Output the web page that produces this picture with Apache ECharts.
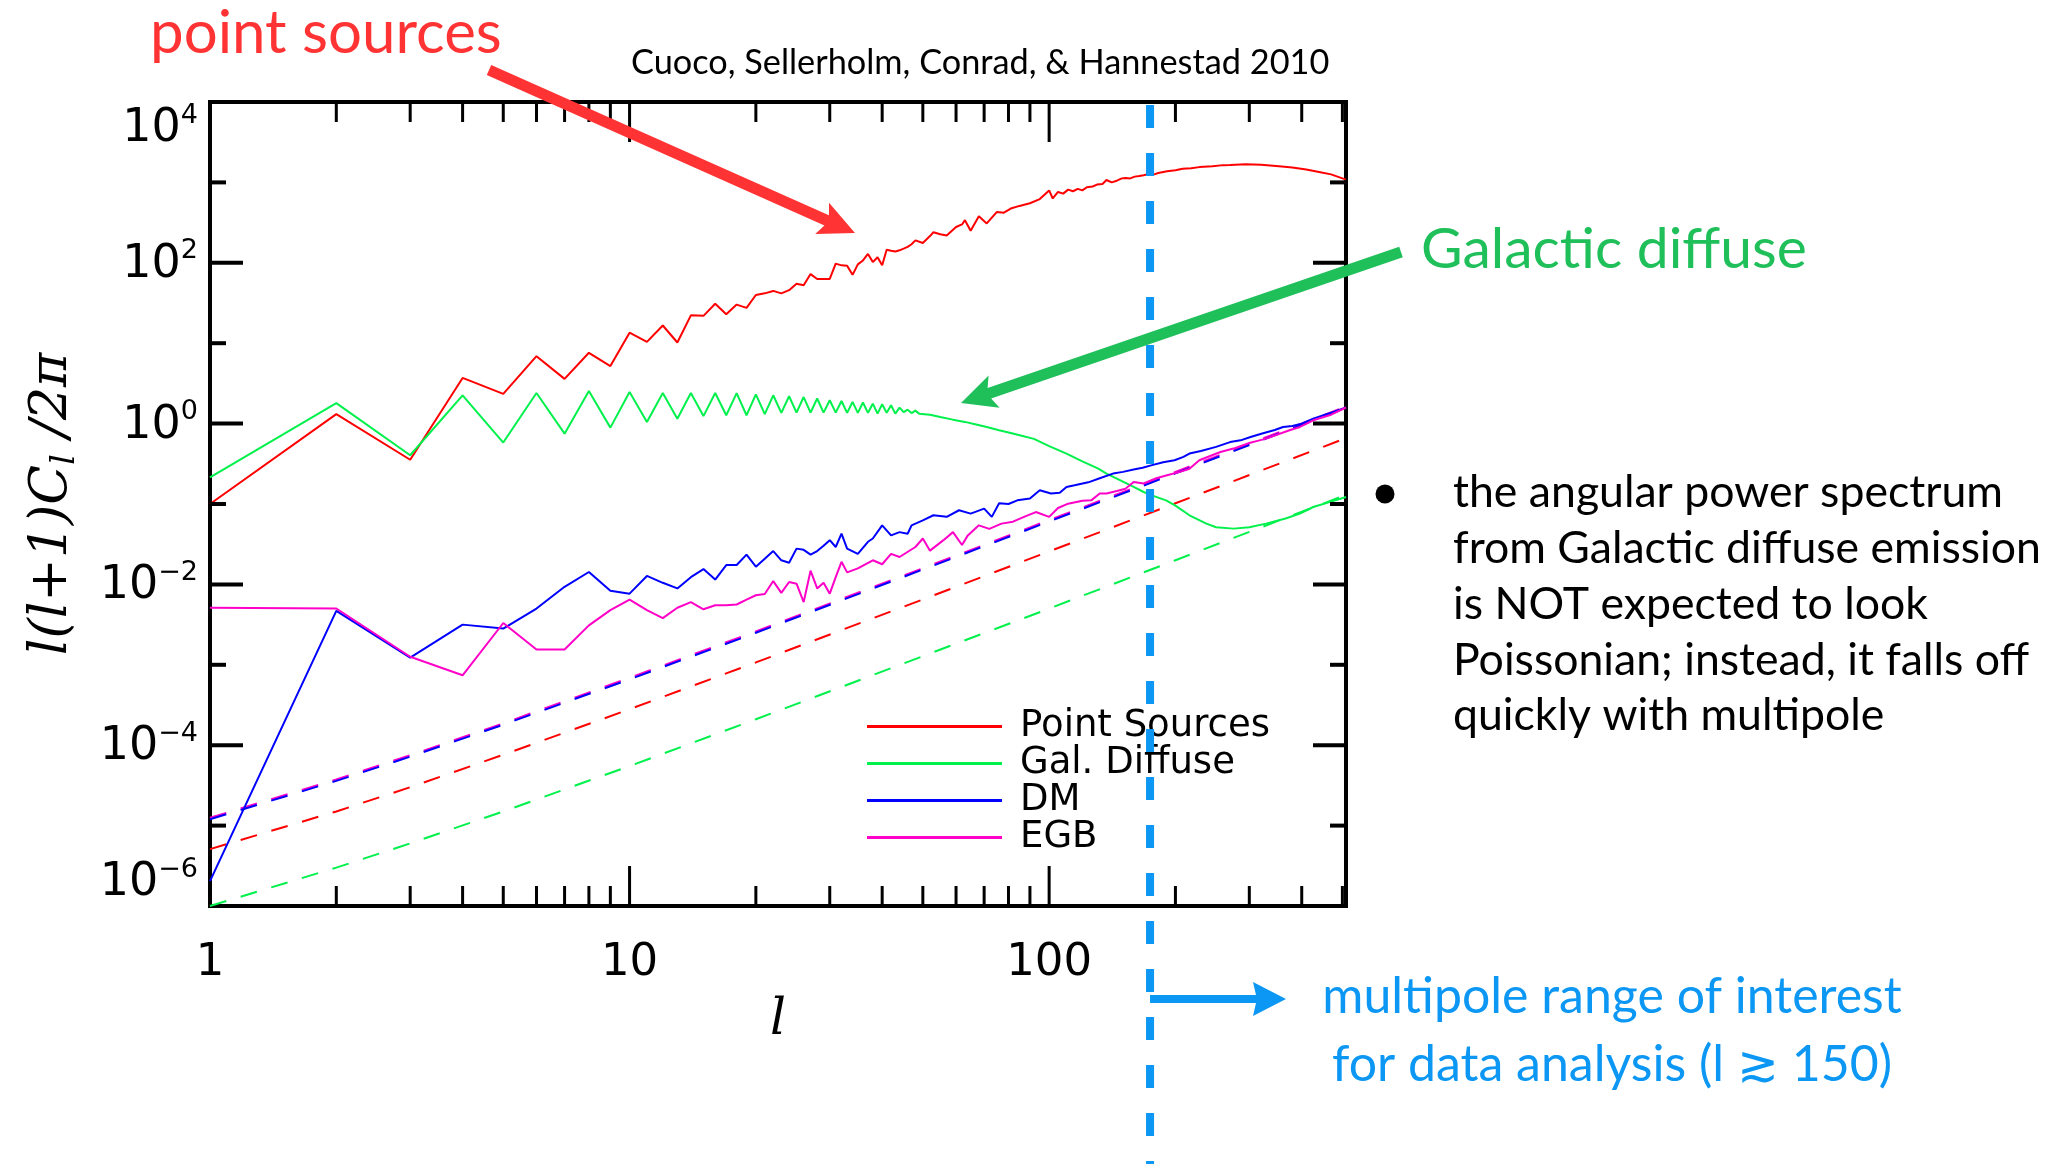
<!DOCTYPE html>
<html><head><meta charset="utf-8">
<script src="https://cdn.jsdelivr.net/npm/echarts@6/dist/echarts.min.js"></script>
<style>html,body{margin:0;padding:0;background:#fff;}#c{width:2049px;height:1164px;}</style>
</head><body><div id="c"></div>
<script>
// ---------------- DATA ----------------
const seriesNames = ['Point Sources', 'Gal. Diffuse', 'DM', 'EGB'];

const psData = [[1,0.1],[2,1.31],[3,0.355],[4,3.7],[5,2.34],[6,6.9],[7,3.6],[8,7.6],[9,5.2],[10,13.5],[11,10.4],[12,16.6],[13,10.2],[14,22.2],[15,21.9],[16,30.9],[17,22.9],[18,30.2],[19,27.5],[20,39.8],[21,41.7],[22,44.7],[23,41.7],[24,45.7],[25,55],[26,52.5],[27,72.4],[28,63],[29,63],[30,63],[31,97.7],[32,93],[33,92],[34,70.8],[35,95.5],[36,107],[37,129],[38,102],[39,117],[40,93],[41,145],[42,141],[43,138],[44,143],[45,150],[46,158],[47,170],[48,190],[50,176],[52,215],[53,240],[55,226],[57,219],[60,279],[62,300],[63,339],[65,251],[68,380],[71,309],[75,427],[78,420],[81,473],[85,510],[90,550],[95,620],[100,794],[102,631],[105,760],[108,725],[111,813],[114,776],[117,830],[120,795],[123,871],[127,890],[130,940],[134,955],[137,1072],[141,1000],[145,1050],[149,1122],[152,1135],[156,1122],[160,1180],[164,1202],[168,1230],[174,1288],[178,1259],[182,1310],[191,1380],[200,1420],[208,1479],[218,1500],[228,1549],[245,1585],[260,1640],[270,1641],[294,1679],[320,1660],[353,1585],[380,1531],[410,1445],[440,1349],[470,1259],[510,1084]];

const gdData = [[1,0.214],[2,1.80],[3,0.404],[4,2.25],[5,0.581],[6,2.40],[7,0.75],[8,2.54],[9,0.891],[10,2.47],[11,1.05],[12,2.40],[13,1.15],[14,2.40],[15,1.24],[16,2.40],[17,1.27],[18,2.39],[19,1.27],[20,2.31],[21,1.31],[22,2.25],[23,1.36],[24,2.19],[25,1.37],[26,2.14],[27,1.37],[28,2.05],[29,1.37],[30,1.95],[31,1.37],[32,1.91],[33,1.36],[34,1.86],[35,1.36],[36,1.83],[37,1.36],[38,1.77],[39,1.33],[40,1.74],[41,1.36],[42,1.69],[43,1.33],[44,1.58],[45,1.39],[46,1.49],[47,1.35],[48,1.45],[49,1.33],[52,1.29],[55,1.21],[59,1.12],[63,1.05],[67,0.977],[71,0.908],[76,0.826],[81,0.764],[86,0.708],[92,0.646],[100,0.525],[110,0.424],[120,0.339],[131,0.275],[137,0.239],[145,0.207],[159,0.163],[168,0.141],[175,0.129],[190,0.111],[200,0.0955],[216,0.0724],[237,0.057],[250,0.0513],[275,0.0494],[300,0.0513],[329,0.057],[366,0.0661],[396,0.0759],[426,0.0918],[470,0.107],[510,0.122]];

const dmData = [[1,2.04e-6],[2,0.00468],[3,0.00123],[4,0.00316],[5,0.00282],[6,0.00501],[7,0.00933],[8,0.01426],[9,0.00832],[10,0.00767],[11,0.01274],[12,0.01047],[13,0.00891],[14,0.0123],[15,0.0155],[16,0.01148],[17,0.0174],[18,0.0174],[19,0.02344],[20,0.0166],[21,0.0209],[22,0.026],[23,0.01995],[24,0.01862],[25,0.02786],[26,0.0269],[27,0.02344],[28,0.026],[29,0.0302],[30,0.0355],[31,0.0292],[32,0.0427],[33,0.0279],[35,0.024],[37,0.0339],[38,0.0372],[40,0.0543],[42,0.0407],[44,0.0447],[46,0.0427],[47,0.0543],[50,0.0627],[53,0.0724],[57,0.0692],[61,0.0836],[65,0.0759],[70,0.0877],[73,0.0692],[76,0.102],[80,0.1],[84,0.111],[90,0.117],[95,0.148],[101,0.135],[106,0.138],[110,0.163],[115,0.171],[124,0.186],[132,0.209],[142,0.239],[150,0.251],[159,0.269],[167,0.282],[175,0.302],[187,0.331],[199,0.35],[209,0.385],[216,0.424],[230,0.457],[250,0.513],[270,0.589],[286,0.619],[302,0.681],[322,0.752],[345,0.832],[361,0.908],[380,0.933],[400,1.0],[426,1.153],[460,1.318],[480,1.413],[510,1.585]];

const egbData = [[1,0.00513],[2,0.00501],[3,0.00126],[4,0.000741],[5,0.00331],[6,0.00155],[7,0.00155],[8,0.00309],[9,0.00479],[10,0.00646],[11,0.00479],[12,0.0038],[13,0.00513],[14,0.00603],[15,0.0049],[16,0.0055],[17,0.0055],[18,0.00562],[19,0.00646],[20,0.00733],[21,0.00759],[22,0.011],[23,0.00785],[24,0.0107],[25,0.0102],[26,0.00603],[27,0.0148],[28,0.00891],[29,0.0105],[30,0.00767],[31,0.0123],[32,0.0191],[33,0.0141],[35,0.0158],[38,0.01995],[40,0.0178],[42,0.024],[44,0.0219],[48,0.0292],[50,0.0372],[52,0.0263],[56,0.0355],[59,0.0447],[62,0.0309],[64,0.0407],[68,0.0543],[72,0.049],[77,0.057],[82,0.0603],[88,0.0708],[93,0.0794],[100,0.0692],[105,0.0891],[111,0.101],[120,0.11],[126,0.111],[132,0.135],[137,0.135],[145,0.145],[152,0.155],[159,0.188],[168,0.18],[180,0.209],[191,0.228],[205,0.251],[216,0.275],[228,0.35],[256,0.444],[275,0.489],[300,0.575],[317,0.619],[329,0.65],[374,0.826],[396,0.908],[426,1.1],[470,1.29],[510,1.585]];

// dashed (Poisson-like) reference curves
const psPoisson  = [[1,5.1e-6],[2,1.5e-5],[3,3.0e-5],[5,7.6e-5],[10,2.8e-4],[20,1.07e-3],[50,6.5e-3],[100,0.0257],[200,0.102],[510,0.66]];
const gdPoisson  = [[1,1.0e-6],[2,3.0e-6],[3,6.0e-6],[5,1.5e-5],[10,5.5e-5],[20,2.1e-4],[50,1.28e-3],[100,5.0e-3],[200,0.02],[510,0.13]];
const dmPoisson  = [[1,1.2e-5],[2,3.6e-5],[3,7.2e-5],[5,1.8e-4],[10,6.6e-4],[20,2.5e-3],[50,0.0153],[100,0.0606],[200,0.24],[510,1.57]];
const egbPoisson = [[1,1.25e-5],[2,3.75e-5],[3,7.5e-5],[5,1.87e-4],[10,6.9e-4],[20,2.6e-3],[50,0.0159],[100,0.063],[200,0.25],[510,1.63]];

// axes / ticks
const xRange = [1, 510];
const yRange = [1e-6, 1e4];
const xTickValues = [2,3,4,5,6,7,8,9,10,20,30,40,50,60,70,80,90,100,200,300,400,500];
const xMajorTicks = [10, 100];
const yTickValues = [1e-5,1e-4,1e-3,1e-2,1e-1,1,10,100,1000];
const yMajorTicks = [1e-4,1e-2,1,100];
const cutMultipole = 174;

// ---------------- STYLE ----------------
const C_RED = '#ff0000', C_GREEN = '#00f04c', C_BLUE = '#0000ff', C_MAG = '#ff00c8';
const ANN_RED = '#ff3333', ANN_GREEN = '#1fbf5a', ANN_BLUE = '#0b97f3';
const GILL = 'Lato, "Open Sans", sans-serif';
const HERSHEY = '"DejaVu Sans", sans-serif';

const chart = echarts.init(document.getElementById('c'), null, {renderer: 'canvas'});

function supText(v) {
  const e = Math.round(Math.log10(v));
  if (Math.abs(e) % 2 === 1) return '';
  return '{b|10}{s|' + (e < 0 ? '\u2212' + (-e) : e) + '}';
}

function lineSeries(name, data, color, dashed, z) {
  return {
    name: name, type: 'line', data: data, showSymbol: false, symbol: 'none',
    smooth: false, clip: true, z: z,
    lineStyle: {color: color, width: 2, type: dashed ? [17, 15] : 'solid'},
    itemStyle: {color: color},
    emphasis: {disabled: true}
  };
}

const option = {
  animation: false,
  backgroundColor: '#fff',
  grid: {left: 210, top: 102, width: 1136, height: 804, show: true, borderColor: '#000', borderWidth: 4, backgroundColor: 'transparent'},
  legend: {
    data: seriesNames, orient: 'vertical', left: 862, top: 703,
    itemWidth: 135, itemHeight: 3, itemGap: 0, icon: 'rect', selectedMode: false,
    textStyle: {fontFamily: HERSHEY, fontSize: 37, color: '#000', lineHeight: 36, padding: [0, 0, 0, 13]}
  },
  xAxis: {
    type: 'log', logBase: 10, min: xRange[0], max: xRange[1],
    axisLine: {show: false}, axisTick: {show: false}, splitLine: {show: false}, minorTick: {show: false},
    axisLabel: {
      color: '#000', fontFamily: HERSHEY, fontSize: 45, margin: 35,
      formatter: function (v) { const e = Math.log10(v); return Math.abs(e - Math.round(e)) < 1e-6 ? String(Math.round(v)) : ''; }
    },
    name: 'l', nameLocation: 'middle', nameGap: 90,
    nameTextStyle: {fontFamily: '"DejaVu Serif", serif', fontStyle: 'italic', fontSize: 50, color: '#000'}
  },
  yAxis: {
    type: 'log', logBase: 10, min: yRange[0], max: yRange[1], interval: 2,
    axisLine: {show: false}, axisTick: {show: false}, splitLine: {show: false}, minorTick: {show: false},
    axisLabel: {
      color: '#000', margin: 12, formatter: supText, interval: 0,
      verticalAlignMaxLabel: 'top', verticalAlignMinLabel: 'bottom',
      rich: {
        b: {fontFamily: HERSHEY, fontSize: 46, lineHeight: 50, verticalAlign: 'bottom', color: '#000'},
        s: {fontFamily: HERSHEY, fontSize: 27, lineHeight: 27, verticalAlign: 'top', color: '#000'}
      }
    },
    name: '{i|l(l+1)C}{sub|l}{i| /2\u03c0}', nameLocation: 'middle', nameRotate: 90, nameGap: 128,
    nameTextStyle: {
      rich: {
        i: {fontFamily: '"DejaVu Serif", serif', fontStyle: 'italic', fontSize: 52, lineHeight: 60, color: '#000'},
        sub: {fontFamily: '"DejaVu Serif", serif', fontStyle: 'italic', fontSize: 34, lineHeight: 34, verticalAlign: 'bottom', color: '#000'}
      }
    }
  },
  series: [
    lineSeries('gdPoisson', gdPoisson, C_GREEN, true, 2),
    lineSeries('psPoisson', psPoisson, C_RED, true, 2),
    lineSeries('egbPoisson', egbPoisson, C_MAG, true, 2),
    lineSeries('dmPoisson', dmPoisson, C_BLUE, true, 2),
    lineSeries(seriesNames[0], psData, C_RED, false, 3),
    lineSeries(seriesNames[1], gdData, C_GREEN, false, 3),
    lineSeries(seriesNames[2], dmData, C_BLUE, false, 3),
    lineSeries(seriesNames[3], egbData, C_MAG, false, 3),
    {
      name: 'xticks', type: 'custom', silent: true, clip: false, z: 10,
      data: xTickValues.map(l => [l, 1, xMajorTicks.indexOf(l) >= 0 ? 1 : 0]),
      renderItem: function (params, api) {
        const l = api.value(0), len = api.value(2) ? 40 : 20;
        const b = api.coord([l, yRange[0]]), t = api.coord([l, yRange[1]]);
        const st = {stroke: '#000', lineWidth: 3};
        return {type: 'group', children: [
          {type: 'line', shape: {x1: b[0], y1: b[1], x2: b[0], y2: b[1] - len}, style: st},
          {type: 'line', shape: {x1: t[0], y1: t[1], x2: t[0], y2: t[1] + len}, style: st}
        ]};
      }
    },
    {
      name: 'yticks', type: 'custom', silent: true, clip: false, z: 10,
      data: yTickValues.map(v => [1, v, yMajorTicks.indexOf(v) >= 0 ? 1 : 0]),
      renderItem: function (params, api) {
        const v = api.value(1), len = api.value(2) ? 33 : 16;
        const lft = api.coord([xRange[0], v]), rgt = api.coord([xRange[1], v]);
        const st = {stroke: '#000', lineWidth: 4};
        return {type: 'group', children: [
          {type: 'line', shape: {x1: lft[0], y1: lft[1], x2: lft[0] + len, y2: lft[1]}, style: st},
          {type: 'line', shape: {x1: rgt[0], y1: rgt[1], x2: rgt[0] - len, y2: rgt[1]}, style: st}
        ]};
      }
    }
  ]
};
chart.setOption(option);

// ---------------- ANNOTATIONS ----------------
function arrowPts(x1, y1, x2, y2, w, hl, hw, notch) {
  const dx = x2 - x1, dy = y2 - y1, L = Math.hypot(dx, dy);
  const ux = dx / L, uy = dy / L, nx = -uy, ny = ux;
  const bx = x2 - ux * hl, by = y2 - uy * hl;
  const jx = x2 - ux * (hl - notch), jy = y2 - uy * (hl - notch);
  return [
    [x1 + nx * w / 2, y1 + ny * w / 2], [jx + nx * w / 2, jy + ny * w / 2],
    [bx + nx * hw, by + ny * hw], [x2, y2], [bx - nx * hw, by - ny * hw],
    [jx - nx * w / 2, jy - ny * w / 2], [x1 - nx * w / 2, y1 - ny * w / 2]
  ];
}
function txt(id, x, y, text, size, color, align, vAlign, extra) {
  const st = Object.assign({
    text: text, fill: color, fontFamily: GILL, fontSize: size,
    align: align, textAlign: align, verticalAlign: vAlign, textVerticalAlign: vAlign
  }, extra || {});
  return {type: 'text', id: id, x: x, y: y, z: 40, style: st, silent: true};
}

const cutX = chart.convertToPixel({gridIndex: 0}, [cutMultipole, yRange[1]])[0];
const H = chart.getHeight();

chart.setOption({
  graphic: [
    txt('t_ps', 150, 34, 'point sources', 60, ANN_RED, 'left', 'middle'),
    txt('t_cite', 631, 63, 'Cuoco, Sellerholm, Conrad, & Hannestad 2010', 34.3, '#000', 'left', 'middle'),
    txt('t_gd', 1421, 250, 'Galactic diffuse', 57, ANN_GREEN, 'left', 'middle'),
    {type: 'circle', id: 'bullet', z: 40, shape: {cx: 1385, cy: 494, r: 9.5}, style: {fill: '#000'}, silent: true},
    txt('t_bullet', 1453, 465,
      'the angular power spectrum\nfrom Galactic diffuse emission\nis NOT expected to look\nPoissonian; instead, it falls off\nquickly with multipole',
      44.6, '#000', 'left', 'top', {lineHeight: 55.8}),
    txt('t_range', 1612, 963,
      'multipole range of interest\nfor data analysis (l \u2273 150)',
      50, ANN_BLUE, 'center', 'top', {lineHeight: 68}),
    {type: 'polygon', id: 'a_red', z: 45, silent: true, shape: {points: arrowPts(489, 70, 855, 233, 11, 36, 17, 5)}, style: {fill: ANN_RED}},
    {type: 'polygon', id: 'a_green', z: 45, silent: true, shape: {points: arrowPts(1401, 252, 961, 403, 11, 35, 17, 5)}, style: {fill: ANN_GREEN}},
    {type: 'polygon', id: 'a_blue', z: 45, silent: true, shape: {points: arrowPts(cutX, 999, 1286, 999, 8, 33, 17, 3)}, style: {fill: ANN_BLUE}},
    {type: 'line', id: 'cut', z: 50, silent: true, shape: {x1: cutX, y1: 105, x2: cutX, y2: H}, style: {stroke: ANN_BLUE, lineWidth: 8, lineDash: [23, 25]}}
  ]
});
</script></body></html>
